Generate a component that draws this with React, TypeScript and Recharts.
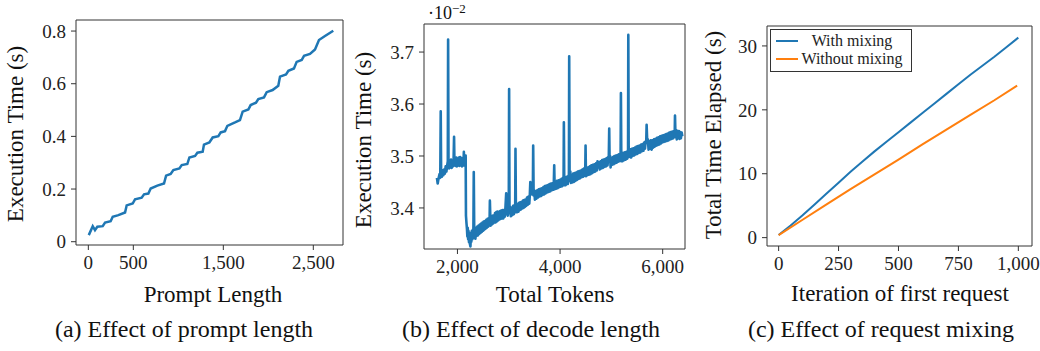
import { LineChart, Line, XAxis, YAxis, Legend, ReferenceLine } from "recharts";

const FONT = "Liberation Serif, DejaVu Serif, serif";
const INK = "#222222";
const FRAME = "#333333";
const BLUE = "#1f77b4";
const ORANGE = "#ff7f0e";

// (a) prompt length vs execution time (s)
const promptLength = [
  5, 49, 74, 100, 160, 186, 248, 271, 334, 408,
  426, 493, 519, 593, 619, 667, 693, 767, 841, 864,
  915, 945, 1012, 1038, 1100, 1123, 1186, 1212, 1271, 1285,
  1345, 1382, 1445, 1471, 1519, 1545, 1630, 1685, 1715, 1778,
  1804, 1863, 1889, 1952, 1982, 2048, 2111, 2130, 2197, 2223,
  2285, 2315, 2371, 2397, 2463, 2519, 2563, 2630, 2722,
];
const promptTime = [
  0.025, 0.059, 0.044, 0.057, 0.059, 0.073, 0.078, 0.095, 0.101, 0.111,
  0.138, 0.145, 0.161, 0.167, 0.18, 0.183, 0.202, 0.213, 0.221, 0.251,
  0.257, 0.272, 0.278, 0.291, 0.295, 0.32, 0.326, 0.338, 0.342, 0.369,
  0.377, 0.396, 0.401, 0.415, 0.42, 0.44, 0.453, 0.462, 0.494, 0.502,
  0.519, 0.528, 0.542, 0.548, 0.568, 0.576, 0.592, 0.627, 0.635, 0.649,
  0.658, 0.683, 0.69, 0.706, 0.713, 0.73, 0.766, 0.781, 0.801,
];
const promptTicksX = [0, 500, 1500, 2500];
const promptTicksY = [0, 0.2, 0.4, 0.6, 0.8];

// (b) total tokens vs execution time, in units of 1e-2 s
const decodeSamples: [number, number][] = [
  [1600, 3.458], [1615, 3.447], [1630, 3.456], [1650, 3.465], [1665, 3.458], [1674, 3.586], [1682, 3.466],
  [1695, 3.46], [1710, 3.472], [1725, 3.463], [1740, 3.474], [1755, 3.466], [1770, 3.48], [1785, 3.47],
  [1800, 3.482], [1812, 3.49], [1818, 3.724], [1826, 3.485], [1838, 3.476], [1850, 3.49], [1862, 3.478],
  [1875, 3.493], [1888, 3.477], [1900, 3.49], [1912, 3.48], [1925, 3.494], [1934, 3.537], [1942, 3.482],
  [1953, 3.496], [1965, 3.481], [1978, 3.497], [1990, 3.48], [2003, 3.495], [2015, 3.482], [2028, 3.497],
  [2040, 3.481], [2053, 3.498], [2065, 3.482], [2078, 3.496], [2090, 3.48], [2103, 3.494], [2115, 3.482],
  [2125, 3.508], [2133, 3.484], [2140, 3.496], [2150, 3.482], [2160, 3.501], [2166, 3.385], [2175, 3.372],
  [2185, 3.36], [2193, 3.345], [2200, 3.362], [2208, 3.34], [2215, 3.356], [2225, 3.334], [2235, 3.352],
  [2244, 3.33], [2253, 3.326], [2262, 3.348], [2270, 3.335], [2280, 3.356], [2290, 3.34], [2300, 3.358],
  [2310, 3.342], [2318, 3.469], [2328, 3.346], [2338, 3.36], [2350, 3.341], [2362, 3.362], [2375, 3.346],
  [2387, 3.364], [2400, 3.347], [2412, 3.366], [2425, 3.35], [2437, 3.368], [2450, 3.352], [2462, 3.37],
  [2475, 3.354], [2487, 3.372], [2500, 3.356], [2512, 3.374], [2525, 3.358], [2537, 3.375], [2550, 3.36],
  [2562, 3.377], [2575, 3.362], [2587, 3.379], [2600, 3.364], [2612, 3.38], [2625, 3.368], [2632, 3.414],
  [2645, 3.366], [2657, 3.383], [2670, 3.368], [2682, 3.385], [2695, 3.37], [2707, 3.386], [2720, 3.372],
  [2732, 3.39], [2745, 3.372], [2757, 3.392], [2770, 3.374], [2782, 3.393], [2795, 3.376], [2807, 3.392],
  [2820, 3.378], [2832, 3.394], [2845, 3.379], [2857, 3.395], [2870, 3.38], [2882, 3.396], [2895, 3.38],
  [2907, 3.396], [2920, 3.383], [2935, 3.4], [2950, 3.428], [2958, 3.388], [2965, 3.4], [2980, 3.385],
  [2990, 3.402], [3000, 3.39], [3007, 3.629], [3015, 3.39], [3027, 3.402], [3040, 3.384], [3055, 3.4],
  [3070, 3.386], [3085, 3.404], [3100, 3.388], [3112, 3.405], [3125, 3.392], [3131, 3.514], [3140, 3.392],
  [3152, 3.406], [3165, 3.392], [3177, 3.408], [3190, 3.393], [3202, 3.41], [3215, 3.396], [3227, 3.411],
  [3240, 3.397], [3252, 3.412], [3265, 3.399], [3277, 3.414], [3290, 3.4], [3302, 3.415], [3315, 3.402],
  [3327, 3.416], [3340, 3.404], [3355, 3.42], [3370, 3.406], [3385, 3.422], [3400, 3.408], [3410, 3.424],
  [3420, 3.45], [3430, 3.428], [3440, 3.444], [3455, 3.426], [3470, 3.44], [3476, 3.52], [3485, 3.424],
  [3497, 3.434], [3510, 3.416], [3525, 3.432], [3540, 3.418], [3555, 3.434], [3570, 3.42], [3585, 3.436],
  [3600, 3.422], [3615, 3.437], [3630, 3.423], [3645, 3.438], [3660, 3.425], [3675, 3.44], [3690, 3.426],
  [3705, 3.442], [3720, 3.428], [3735, 3.443], [3750, 3.43], [3765, 3.444], [3780, 3.431], [3795, 3.446],
  [3810, 3.432], [3825, 3.447], [3840, 3.434], [3858, 3.448], [3875, 3.435], [3886, 3.482], [3895, 3.436],
  [3910, 3.45], [3925, 3.437], [3940, 3.452], [3955, 3.438], [3970, 3.453], [3985, 3.44], [4000, 3.454],
  [4015, 3.441], [4030, 3.456], [4045, 3.442], [4058, 3.458], [4068, 3.446], [4074, 3.565], [4082, 3.444],
  [4096, 3.458], [4110, 3.444], [4130, 3.46], [4150, 3.446], [4162, 3.462], [4172, 3.452], [4178, 3.692],
  [4186, 3.458], [4200, 3.47], [4212, 3.448], [4225, 3.464], [4240, 3.449], [4255, 3.466], [4270, 3.45],
  [4285, 3.467], [4300, 3.452], [4315, 3.468], [4330, 3.454], [4345, 3.47], [4360, 3.456], [4375, 3.471],
  [4390, 3.457], [4405, 3.472], [4420, 3.459], [4435, 3.474], [4450, 3.46], [4465, 3.476], [4480, 3.462],
  [4491, 3.474], [4497, 3.52], [4505, 3.461], [4520, 3.476], [4535, 3.463], [4550, 3.478], [4565, 3.464],
  [4580, 3.48], [4595, 3.465], [4610, 3.482], [4625, 3.467], [4640, 3.483], [4655, 3.469], [4670, 3.484],
  [4685, 3.47], [4700, 3.486], [4715, 3.472], [4730, 3.49], [4745, 3.478], [4760, 3.488], [4775, 3.474],
  [4790, 3.49], [4805, 3.476], [4820, 3.492], [4835, 3.477], [4850, 3.493], [4865, 3.479], [4880, 3.494],
  [4895, 3.48], [4910, 3.496], [4925, 3.482], [4940, 3.498], [4950, 3.5], [4958, 3.553], [4966, 3.49],
  [4975, 3.5], [4985, 3.478], [5000, 3.496], [5015, 3.483], [5030, 3.498], [5045, 3.484], [5060, 3.5],
  [5075, 3.486], [5090, 3.501], [5105, 3.487], [5120, 3.502], [5135, 3.489], [5148, 3.503], [5160, 3.49],
  [5172, 3.504], [5180, 3.5], [5186, 3.621], [5194, 3.49], [5207, 3.505], [5220, 3.49], [5235, 3.506],
  [5250, 3.492], [5265, 3.507], [5280, 3.493], [5295, 3.508], [5310, 3.495], [5320, 3.51], [5325, 3.505],
  [5330, 3.733], [5338, 3.498], [5349, 3.512], [5360, 3.5], [5372, 3.513], [5385, 3.497], [5400, 3.514],
  [5415, 3.5], [5430, 3.515], [5445, 3.501], [5460, 3.516], [5475, 3.503], [5490, 3.518], [5505, 3.504],
  [5520, 3.519], [5535, 3.506], [5550, 3.52], [5565, 3.507], [5580, 3.522], [5595, 3.509], [5610, 3.523],
  [5625, 3.51], [5640, 3.526], [5655, 3.514], [5668, 3.528], [5680, 3.53], [5687, 3.56], [5700, 3.525],
  [5712, 3.532], [5725, 3.512], [5740, 3.528], [5755, 3.514], [5770, 3.53], [5785, 3.512], [5800, 3.53],
  [5815, 3.516], [5830, 3.532], [5845, 3.518], [5860, 3.533], [5875, 3.52], [5890, 3.535], [5905, 3.521],
  [5920, 3.536], [5935, 3.522], [5950, 3.538], [5965, 3.524], [5980, 3.539], [5995, 3.526], [6010, 3.54],
  [6025, 3.527], [6040, 3.541], [6055, 3.528], [6070, 3.542], [6085, 3.529], [6100, 3.543], [6115, 3.53],
  [6130, 3.545], [6145, 3.532], [6160, 3.546], [6175, 3.533], [6190, 3.547], [6205, 3.534], [6220, 3.548],
  [6235, 3.545], [6240, 3.578], [6250, 3.536], [6262, 3.55], [6275, 3.532], [6288, 3.548], [6300, 3.534],
  [6315, 3.548], [6330, 3.533], [6342, 3.546], [6355, 3.534], [6370, 3.545], [6383, 3.538],
];
const decodeTicksX = [2000, 4000, 6000];
const decodeTicksY = [3.4, 3.5, 3.6, 3.7];

// (c) iteration of first request vs total time elapsed (s)
const iterations = [0, 50, 100, 150, 200, 250, 300, 350, 400, 450, 500, 550, 600, 650, 700, 750, 800, 850, 900, 950, 1000];
const withMixing = [0.4, 1.9, 3.5, 5.2, 6.9, 8.6, 10.3, 11.9, 13.5, 15.0, 16.5, 18.0, 19.5, 21.0, 22.5, 24.0, 25.5, 26.9, 28.3, 29.8, 31.3];
const iterationsNoMix = [0, 100, 200, 300, 400, 500, 600, 700, 800, 900, 995];
const withoutMixing = [0.4, 2.8, 5.2, 7.6, 9.9, 12.2, 14.6, 16.9, 19.2, 21.5, 23.8];
const mixTicksX = [0, 250, 500, 750, 1000];
const mixTicksY = [0, 10, 20, 30];

const comma = (v: number) => v.toLocaleString("en-US");
const tickStyle = { fill: INK, fontSize: 19, fontFamily: FONT };

function PromptPanel() {
  const rows = promptLength.map((x, i) => ({ x, t: promptTime[i] }));
  return (
    <LineChart width={350} height={300} data={rows} margin={{ top: 20, right: 7, bottom: 0, left: 0 }}>
      <XAxis dataKey="x" type="number" domain={[-137, 2830]} ticks={promptTicksX} interval={0} tickFormatter={comma}
        height={55} stroke={FRAME} tick={tickStyle} tickSize={5} tickMargin={6} allowDataOverflow />
      <YAxis type="number" domain={[-0.0125, 0.842]} ticks={promptTicksY} interval={0}
        tickFormatter={(v: number) => (v === 0 ? "0" : v.toFixed(1))}
        width={76} stroke={FRAME} tick={tickStyle} tickSize={5} tickMargin={5} allowDataOverflow />
      <ReferenceLine y={0.842} stroke={FRAME} />
      <ReferenceLine x={2830} stroke={FRAME} />
      <Line dataKey="t" stroke={BLUE} strokeWidth={2.5} dot={false} isAnimationActive={false} />
    </LineChart>
  );
}

function DecodePanel() {
  const rows = decodeSamples.map(([x, t]) => ({ x, t }));
  return (
    <LineChart width={360} height={300} data={rows} margin={{ top: 24, right: 15, bottom: 0, left: 0 }}>
      <XAxis dataKey="x" type="number" domain={[1348, 6435]} ticks={decodeTicksX} interval={0} tickFormatter={comma}
        height={51} stroke={FRAME} tick={tickStyle} tickSize={5} tickMargin={6} allowDataOverflow />
      <YAxis type="number" domain={[3.321, 3.754]} ticks={decodeTicksY} interval={0}
        tickFormatter={(v: number) => v.toFixed(1)}
        width={84} stroke={FRAME} tick={tickStyle} tickSize={5} tickMargin={5} allowDataOverflow />
      <ReferenceLine y={3.754} stroke={FRAME} />
      <ReferenceLine x={6435} stroke={FRAME} />
      <Line dataKey="t" stroke={BLUE} strokeWidth={2.6} strokeLinejoin="round" dot={false} isAnimationActive={false} />
    </LineChart>
  );
}

function MixLegend({ payload }: any) {
  return (
    <div style={{ border: `1px solid ${FRAME}`, background: "#fff", padding: "2px 5px 3px", fontFamily: FONT, fontSize: 16, color: INK, lineHeight: "18px" }}>
      {(payload || []).map((p: any) => (
        <div key={p.value} style={{ display: "flex", alignItems: "center" }}>
          <span style={{ width: 22, height: 2, background: p.color, display: "inline-block" }} />
          <span style={{ width: 108, textAlign: "center" }}>{p.value}</span>
        </div>
      ))}
    </div>
  );
}

function MixPanel() {
  const mixRows = iterations.map((x, i) => ({ x, t: withMixing[i] }));
  const noMixRows = iterationsNoMix.map((x, i) => ({ x, t: withoutMixing[i] }));
  return (
    <LineChart width={350} height={300} margin={{ top: 26, right: 8, bottom: 0, left: 0 }}>
      <XAxis dataKey="x" type="number" domain={[-48.5, 1057]} ticks={mixTicksX} interval={0} tickFormatter={comma}
        height={54} stroke={FRAME} tick={tickStyle} tickSize={5} tickMargin={6} allowDataOverflow />
      <YAxis type="number" domain={[-1.31, 33.12]} ticks={mixTicksY} interval={0}
        width={77} stroke={FRAME} tick={tickStyle} tickSize={5} tickMargin={5} allowDataOverflow />
      <ReferenceLine y={33.12} stroke={FRAME} />
      <ReferenceLine x={1057} stroke={FRAME} />
      <Line data={mixRows} dataKey="t" name="With mixing" stroke={BLUE} strokeWidth={2} dot={false} isAnimationActive={false} />
      <Line data={noMixRows} dataKey="t" name="Without mixing" stroke={ORANGE} strokeWidth={2} dot={false} isAnimationActive={false} />
      <Legend layout="vertical" align="center" verticalAlign="middle" content={MixLegend}
        wrapperStyle={{ left: 80, top: 29, width: "auto", height: "auto" }} />
    </LineChart>
  );
}

export default function App() {
  const title = { fontFamily: FONT, fontSize: 23, fill: "#111", textAnchor: "middle" as const };
  const caption = { fontFamily: FONT, fontSize: 24, fill: "#111", textAnchor: "middle" as const };
  return (
    <div style={{ position: "absolute", left: 0, top: 0, width: 1040, height: 351, background: "#fff", overflow: "hidden" }}>
      <div style={{ position: "absolute", left: 0, top: 0 }}><PromptPanel /></div>
      <div style={{ position: "absolute", left: 340, top: 0 }}><DecodePanel /></div>
      <div style={{ position: "absolute", left: 690, top: 0 }}><MixPanel /></div>
      <svg width={1040} height={351} style={{ position: "absolute", left: 0, top: 0, pointerEvents: "none" }}>
        <text x={23} y={134} transform="rotate(-90 23 134)" style={title}>Execution Time (s)</text>
        <text x={213} y={302} style={title}>Prompt Length</text>
        <text x={371} y={140} transform="rotate(-90 371 140)" style={title}>Execution Time (s)</text>
        <text x={555} y={302} style={title}>Total Tokens</text>
        <text x={428} y={19} style={{ fontFamily: FONT, fontSize: 18, fill: "#111" }}>
          ·10<tspan fontSize={13} dy={-6}>−2</tspan>
        </text>
        <text x={721} y={135} transform="rotate(-90 721 135)" style={title}>Total Time Elapsed (s)</text>
        <text x={900} y={301} style={title}>Iteration of first request</text>
        <text x={184} y={337} style={caption}>(a) Effect of prompt length</text>
        <text x={531} y={337} style={caption}>(b) Effect of decode length</text>
        <text x={881} y={337} style={caption}>(c) Effect of request mixing</text>
      </svg>
    </div>
  );
}
